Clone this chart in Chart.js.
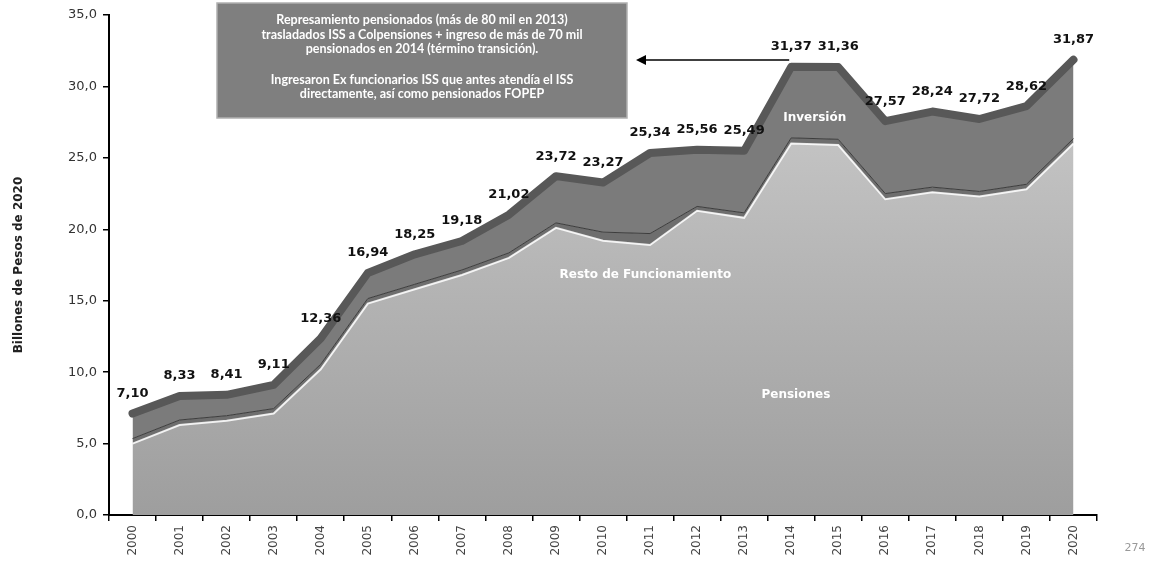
<!DOCTYPE html>
<html>
<head>
<meta charset="utf-8">
<script src="https://cdn.jsdelivr.net/npm/chart.js@4.4.1/dist/chart.umd.min.js"></script>
<style>
  html, body { margin: 0; padding: 0; background: #fff; }
  #wrap { width: 1155px; height: 567px; }
</style>
</head>
<body>
<div id="wrap"><canvas id="gastoChart" width="1155" height="567"></canvas></div>
<script>
const years = ['2000', '2001', '2002', '2003', '2004', '2005', '2006', '2007', '2008', '2009', '2010',
    '2011', '2012', '2013', '2014', '2015', '2016', '2017', '2018', '2019', '2020'];
const totalValues = [7.10, 8.33, 8.41, 9.11, 12.36, 16.94, 18.25, 19.18, 21.02, 23.72, 23.27,
    25.34, 25.56, 25.49, 31.37, 31.36, 27.57, 28.24, 27.72, 28.62, 31.87];
const pensiones = [5.0, 6.3, 6.6, 7.1, 10.2, 14.8, 15.8, 16.8, 18.0, 20.1, 19.2,
    18.9, 21.3, 20.8, 26.0, 25.9, 22.1, 22.6, 22.3, 22.8, 26.0];
const resto = [0.35, 0.35, 0.35, 0.35, 0.35, 0.35, 0.35, 0.35, 0.35, 0.35, 0.6,
    0.8, 0.3, 0.35, 0.4, 0.4, 0.4, 0.35, 0.35, 0.35, 0.35];
const inversion = [1.75, 1.68, 1.46, 1.66, 1.81, 1.79, 2.10, 2.03, 2.67, 3.27, 3.47,
    5.64, 3.96, 4.34, 4.97, 5.06, 5.07, 5.29, 5.07, 5.47, 5.52];
const yTicks = [0, 5, 10, 15, 20, 25, 30, 35];

const noteLines = [
    'Represamiento pensionados (más de 80 mil en 2013)',
    'trasladados ISS a Colpensiones + ingreso de más de 70 mil',
    'pensionados en 2014 (término transición).',
    '',
    'Ingresaron Ex funcionarios ISS que antes atendía el ISS',
    'directamente, así como pensionados FOPEP'
];

const fmt = (v, d) => v.toFixed(d).replace('.', ',');

function lightFill(context) {
    const chart = context.chart;
    const a = chart.chartArea;
    if (!a) return '#b4b4b4';
    const g = chart.ctx.createLinearGradient(0, a.top, 0, a.bottom);
    g.addColorStop(0, '#d0d0d0');
    g.addColorStop(0.5, '#b6b6b6');
    g.addColorStop(1, '#9e9e9e');
    return g;
}

const overlay = {
    id: 'overlay',
    afterDatasetsDraw(chart) {
        const c = chart.ctx;
        const x = chart.scales.x;
        const y = chart.scales.y;
        c.save();

        // valores del total
        c.fillStyle = '#111';
        c.font = 'bold 13px "DejaVu Sans"';
        c.textAlign = 'center';
        c.textBaseline = 'middle';
        totalValues.forEach((v, i) => {
            c.fillText(fmt(v, 2), x.getPixelForValue(i), y.getPixelForValue(v) - 20);
        });

        // nombres de las areas
        c.fillStyle = '#fff';
        c.font = 'bold 12px "DejaVu Sans"';
        c.fillText('Pensiones', x.getPixelForValue(14.1), y.getPixelForValue(8.4));
        c.fillText('Resto de Funcionamiento', x.getPixelForValue(10.9), y.getPixelForValue(16.8));
        c.fillText('Inversión', x.getPixelForValue(14.5), y.getPixelForValue(27.8));

        // recuadro de nota
        c.fillStyle = '#7f7f7f';
        c.fillRect(217, 3, 410, 115);
        c.strokeStyle = '#b0b0b0';
        c.lineWidth = 1.5;
        c.strokeRect(217, 3, 410, 115);
        c.fillStyle = '#fff';
        c.font = 'bold 12.5px Lato';
        const ys = [20, 35, 49, 0, 80, 94];
        noteLines.forEach((t, i) => {
            if (t) c.fillText(t, 422, ys[i]);
        });

        // flecha
        const x0 = x.getPixelForValue(14) - 2;
        c.strokeStyle = '#000';
        c.fillStyle = '#000';
        c.lineWidth = 1.5;
        c.beginPath();
        c.moveTo(x0, 60);
        c.lineTo(644, 60);
        c.stroke();
        c.beginPath();
        c.moveTo(636, 60);
        c.lineTo(646, 55);
        c.lineTo(646, 65);
        c.closePath();
        c.fill();

        // numero de pagina
        c.fillStyle = '#999';
        c.font = '11px "DejaVu Sans"';
        c.fillText('274', 1135, 548);
        c.restore();
    }
};

new Chart(document.getElementById('gastoChart'), {
    type: 'line',
    data: {
        labels: years,
        datasets: [
            {
                label: 'Total',
                data: totalValues,
                stack: 'total',
                borderColor: '#585858',
                borderWidth: 8,
                borderCapStyle: 'round',
                borderJoinStyle: 'round',
                pointRadius: 0,
                fill: false,
                tension: 0
            },
            {
                label: 'Pensiones',
                data: pensiones,
                stack: 'gasto',
                backgroundColor: lightFill,
                borderColor: 'rgba(255,255,255,0.85)',
                borderWidth: 2,
                pointRadius: 0,
                fill: 'origin',
                tension: 0
            },
            {
                label: 'Resto de Funcionamiento',
                data: resto,
                stack: 'gasto',
                backgroundColor: '#6e6e6e',
                borderColor: '#3c3c3c',
                borderWidth: 1,
                pointRadius: 0,
                fill: '-1',
                tension: 0
            },
            {
                label: 'Inversión',
                data: inversion,
                stack: 'gasto',
                backgroundColor: '#7b7b7b',
                borderColor: '#7b7b7b',
                borderWidth: 0,
                pointRadius: 0,
                fill: '-1',
                tension: 0
            }
        ]
    },
    options: {
        responsive: false,
        animation: false,
        layout: { padding: { top: 15, right: 58, left: 8, bottom: 2 } },
        plugins: {
            legend: { display: false },
            tooltip: { enabled: false }
        },
        scales: {
            x: {
                offset: true,
                grid: { offset: true, drawOnChartArea: false, drawTicks: true, tickLength: 6, color: '#000', lineWidth: 1.5 },
                border: { color: '#000', width: 2 },
                ticks: { color: '#444', font: { family: 'DejaVu Sans', size: 12 }, minRotation: 90, maxRotation: 90, padding: 4 },
                afterFit(scale) { scale.height = 50; }
            },
            y: {
                stacked: true,
                min: 0,
                max: 35,
                afterBuildTicks(scale) { scale.ticks = yTicks.map((v) => ({ value: v })); },
                grid: { drawOnChartArea: false, drawTicks: true, tickLength: 6, color: '#000', lineWidth: 1.5 },
                border: { color: '#000', width: 2 },
                ticks: {
                    color: '#333',
                    font: { family: 'DejaVu Sans', size: 13 },
                    padding: 6,
                    callback: (v) => fmt(v, 1)
                },
                title: {
                    display: true,
                    text: 'Billones de Pesos de 2020',
                    color: '#222',
                    font: { family: 'DejaVu Sans', size: 12, weight: 'bold' }
                },
                afterFit(scale) { scale.width = 101; }
            }
        }
    },
    plugins: [overlay]
});
</script>
</body>
</html>
